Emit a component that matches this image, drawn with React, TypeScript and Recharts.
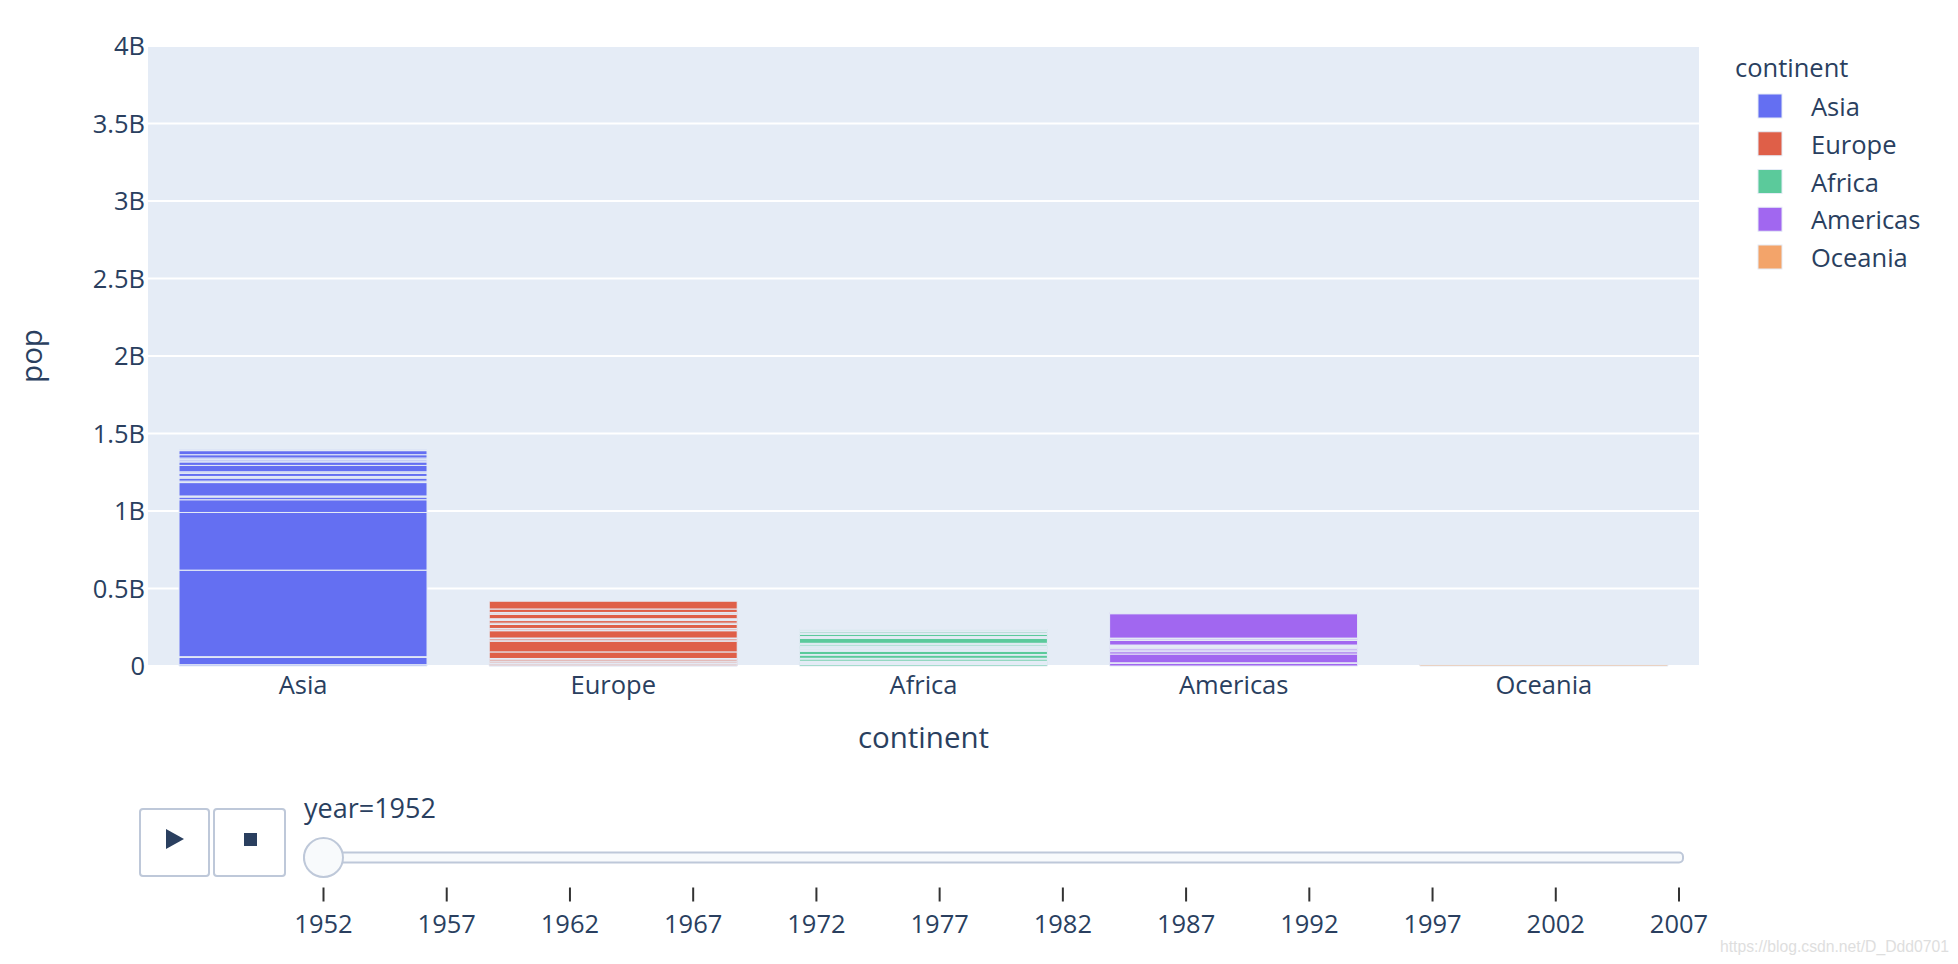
import React from "react";
import { BarChart, Bar, XAxis, YAxis, CartesianGrid, Legend } from "recharts";

// gapminder, year = 1952 (population per country, stacked per continent)

const CONTINENTS = ["Asia", "Europe", "Africa", "Americas", "Oceania"];

const CONTINENT_COLORS: Record<string, string> = {
  Asia: "#646ff2",
  Europe: "#df5f48",
  Africa: "#5bca9b",
  Americas: "#a167f0",
  Oceania: "#f3a46a",
};

const ASIA_COUNTRIES = [
  "Afghanistan", "Bahrain", "Bangladesh", "Cambodia", "China", "Hong Kong", "India", "Indonesia",
  "Iran", "Iraq", "Israel", "Japan", "Jordan", "Korea Dem Rep", "Korea Rep", "Kuwait", "Lebanon",
  "Malaysia", "Mongolia", "Myanmar", "Nepal", "Oman", "Pakistan", "Philippines", "Saudi Arabia",
  "Singapore", "Sri Lanka", "Syria", "Taiwan", "Thailand", "Vietnam", "West Bank and Gaza", "Yemen Rep",
];
const ASIA_POP = [
  8425333, 120447, 46886859, 4693836, 556263527, 2125900, 372000000, 82052000,
  17272000, 5441766, 1620914, 86459025, 607914, 8865488, 20947571, 160000, 1439529,
  6748378, 800663, 20092996, 9182536, 507833, 41346560, 22438691, 4005677,
  1127000, 7982342, 3661549, 8550362, 21289402, 26246839, 1030585, 4963829,
];

const EUROPE_COUNTRIES = [
  "Albania", "Austria", "Belgium", "Bosnia and Herzegovina", "Bulgaria", "Croatia", "Czech Republic",
  "Denmark", "Finland", "France", "Germany", "Greece", "Hungary", "Iceland", "Ireland", "Italy",
  "Montenegro", "Netherlands", "Norway", "Poland", "Portugal", "Romania", "Serbia", "Slovak Republic",
  "Slovenia", "Spain", "Sweden", "Switzerland", "Turkey", "United Kingdom",
];
const EUROPE_POP = [
  1282697, 6927772, 8730405, 2791000, 7274900, 3882229, 9125183,
  4334000, 4090500, 42459667, 69145952, 7733250, 9504000, 147962, 2952156, 47666000,
  413834, 10381988, 3327728, 25730551, 8526050, 16630000, 6860147, 3558137,
  1489518, 28549870, 7124673, 4815000, 22235677, 50430000,
];

const AFRICA_COUNTRIES = [
  "Algeria", "Angola", "Benin", "Botswana", "Burkina Faso", "Burundi", "Cameroon",
  "Central African Republic", "Chad", "Comoros", "Congo Dem Rep", "Congo Rep", "Cote d'Ivoire",
  "Djibouti", "Egypt", "Equatorial Guinea", "Eritrea", "Ethiopia", "Gabon", "Gambia", "Ghana",
  "Guinea", "Guinea-Bissau", "Kenya", "Lesotho", "Liberia", "Libya", "Madagascar", "Malawi", "Mali",
  "Mauritania", "Mauritius", "Morocco", "Mozambique", "Namibia", "Niger", "Nigeria", "Reunion",
  "Rwanda", "Sao Tome and Principe", "Senegal", "Sierra Leone", "Somalia", "South Africa", "Sudan",
  "Swaziland", "Tanzania", "Togo", "Tunisia", "Uganda", "Zambia", "Zimbabwe",
];
const AFRICA_POP = [
  9279525, 4232095, 1738315, 442308, 4469979, 2445618, 5009067,
  1291695, 2682462, 153936, 14100005, 854885, 2977019,
  63149, 22223309, 216964, 1438760, 20860941, 420702, 284320, 5581001,
  2664249, 580653, 6464046, 748747, 863308, 1019729, 4762912, 2917802, 3838168,
  1022556, 516556, 9939217, 6446316, 485831, 3379468, 33119096, 257700,
  2534927, 60011, 2755589, 2143249, 2526994, 14264935, 8504667,
  290243, 8322925, 1219113, 3647735, 5824797, 2672000, 3080907,
];

const AMERICAS_COUNTRIES = [
  "Argentina", "Bolivia", "Brazil", "Canada", "Chile", "Colombia", "Costa Rica", "Cuba",
  "Dominican Republic", "Ecuador", "El Salvador", "Guatemala", "Haiti", "Honduras", "Jamaica",
  "Mexico", "Nicaragua", "Panama", "Paraguay", "Peru", "Puerto Rico", "Trinidad and Tobago",
  "United States", "Uruguay", "Venezuela",
];
const AMERICAS_POP = [
  17876956, 2883315, 56602560, 14785584, 6377619, 12350771, 926317, 6007797,
  2491346, 3548753, 2042865, 3146381, 3201488, 1517453, 1426095,
  30144317, 1165790, 940080, 1555876, 8025700, 2227000, 662850,
  157553000, 2252965, 5439568,
];

const OCEANIA_COUNTRIES = ["Australia", "New Zealand"];
const OCEANIA_POP = [8691212, 1994794];

const Y_TICKS = [0, 0.5e9, 1e9, 1.5e9, 2e9, 2.5e9, 3e9, 3.5e9, 4e9];
const YEARS = [1952, 1957, 1962, 1967, 1972, 1977, 1982, 1987, 1992, 1997, 2002, 2007];
const CURRENT_YEAR = 1952;

const GROUPS = [
  { continent: "Asia", countries: ASIA_COUNTRIES, pop: ASIA_POP },
  { continent: "Europe", countries: EUROPE_COUNTRIES, pop: EUROPE_POP },
  { continent: "Africa", countries: AFRICA_COUNTRIES, pop: AFRICA_POP },
  { continent: "Americas", countries: AMERICAS_COUNTRIES, pop: AMERICAS_POP },
  { continent: "Oceania", countries: OCEANIA_COUNTRIES, pop: OCEANIA_POP },
];

const data = GROUPS.map((g) => {
  const row: Record<string, string | number> = { continent: g.continent };
  g.countries.forEach((c, i) => {
    row[c] = g.pop[i];
  });
  return row;
});

const series = GROUPS.flatMap((g) => g.countries.map((c) => ({ name: c, continent: g.continent })));

const FONT = '"Open Sans", verdana, arial, sans-serif';
const INK = "#2a3f5f";
const PLOT_BG = "#E5ECF6";
const TICK_FS = 25.5;
const TITLE_FS = 29.5;

function formatPop(v: number) {
  return v === 0 ? "0" : `${v / 1e9}B`;
}

function renderLegend() {
  return (
    <svg width={250} height={260}>
      <text x={35} y={37} fontSize={TICK_FS} fill={INK} fontFamily={FONT}>continent</text>
      {CONTINENTS.map((c, i) => (
        <g key={c}>
          <rect x={58} y={54 + i * 37.75} width={24} height={24} fill={CONTINENT_COLORS[c]} stroke={PLOT_BG} strokeWidth={1} />
          <text x={111} y={76 + i * 37.75} fontSize={TICK_FS} fill={INK} fontFamily={FONT}>{c}</text>
        </g>
      ))}
    </svg>
  );
}

// ── animation controls (play / stop + year slider) ──
const RAIL_X0 = 304;
const RAIL_X1 = 1683;
const TICK_X0 = 323.5;
const TICK_X1 = 1679;
const tickX = (i: number) => TICK_X0 + (i * (TICK_X1 - TICK_X0)) / (YEARS.length - 1);

function SliderControls() {
  const current = YEARS.indexOf(CURRENT_YEAR);
  return (
    <svg width={1958} height={964} style={{ position: "absolute", left: 0, top: 0, pointerEvents: "none" }}>
      {/* buttons */}
      <rect x={140} y={809} width={69} height={67} rx={3} fill="#ffffff" stroke="#BEC8D9" strokeWidth={2} />
      <polygon points="166,829 166,849 184,839" fill={INK} />
      <rect x={214} y={809} width={71} height={67} rx={3} fill="#ffffff" stroke="#BEC8D9" strokeWidth={2} />
      <rect x={244} y={833} width={13} height={13} fill={INK} />

      {/* current value */}
      <text x={304} y={818} fontSize={27} fill={INK} fontFamily={FONT}>year={CURRENT_YEAR}</text>

      {/* rail */}
      <rect x={RAIL_X0} y={852.5} width={RAIL_X1 - RAIL_X0} height={10} rx={4} fill="#F8FAFC" stroke="#BEC8D9" strokeWidth={2} />

      {/* ticks + labels */}
      {YEARS.map((y, i) => (
        <g key={y}>
          <line x1={tickX(i)} x2={tickX(i)} y1={887.5} y2={901.5} stroke="#333" strokeWidth={2} />
          <text x={tickX(i)} y={933} textAnchor="middle" fontSize={TICK_FS} fill={INK} fontFamily={FONT}>{y}</text>
        </g>
      ))}

      {/* grip */}
      <circle cx={tickX(current)} cy={857.5} r={19.5} fill="#F8FAFC" stroke="#BEC8D9" strokeWidth={2} />

      <text
        x={1720}
        y={951.5}
        fontSize={17}
        textLength={229}
        lengthAdjust="spacingAndGlyphs"
        fill="#dedede"
        fontFamily="Liberation Sans, Arial, sans-serif"
      >
        https://blog.csdn.net/D_Ddd0701
      </text>
    </svg>
  );
}

export default function App() {
  return (
    <div style={{ position: "absolute", left: 0, top: 0, width: 1958, height: 964, background: "#fff" }}>
      <BarChart
        width={1958}
        height={964}
        data={data}
        margin={{ top: 46, right: 259, bottom: 248, left: 48 }}
        barCategoryGap="10%"
      >
        <CartesianGrid vertical={false} stroke="#ffffff" strokeWidth={2} fill={PLOT_BG} fillOpacity={1} />
        <XAxis
          dataKey="continent"
          height={50}
          interval={0}
          tickLine={false}
          axisLine={false}
          tickSize={0}
          tickMargin={10}
          tick={{ fontSize: TICK_FS, fill: INK, fontFamily: FONT }}
          label={(p: any) => (
            <text
              x={p.viewBox.x + p.viewBox.width / 2}
              y={p.viewBox.y + 82}
              textAnchor="middle"
              fontSize={TITLE_FS}
              fill={INK}
              fontFamily={FONT}
            >
              continent
            </text>
          )}
        />
        <YAxis
          width={100}
          domain={[0, 4e9]}
          ticks={Y_TICKS}
          interval={0}
          tickLine={false}
          axisLine={false}
          tickSize={0}
          tickMargin={3}
          tickFormatter={formatPop}
          tick={{ fontSize: TICK_FS, fill: INK, fontFamily: FONT }}
          label={(p: any) => {
            const cx = p.viewBox.x - 6;
            const cy = p.viewBox.y + p.viewBox.height / 2;
            return (
              <text
                x={cx}
                y={cy}
                transform={`rotate(-90, ${cx}, ${cy})`}
                textAnchor="middle"
                fontSize={TITLE_FS}
                fill={INK}
                fontFamily={FONT}
              >
                pop
              </text>
            );
          }}
        />
        {series.map((s) => (
          <Bar
            key={s.name}
            dataKey={s.name}
            stackId="pop"
            fill={CONTINENT_COLORS[s.continent]}
            stroke={PLOT_BG}
            strokeWidth={1}
            legendType="none"
            isAnimationActive={false}
          />
        ))}
        <Legend
          layout="horizontal"
          verticalAlign="middle"
          align="center"
          content={renderLegend}
          wrapperStyle={{ left: 1700, top: 40, width: 250, height: 260 }}
        />
      </BarChart>
      <SliderControls />
    </div>
  );
}
